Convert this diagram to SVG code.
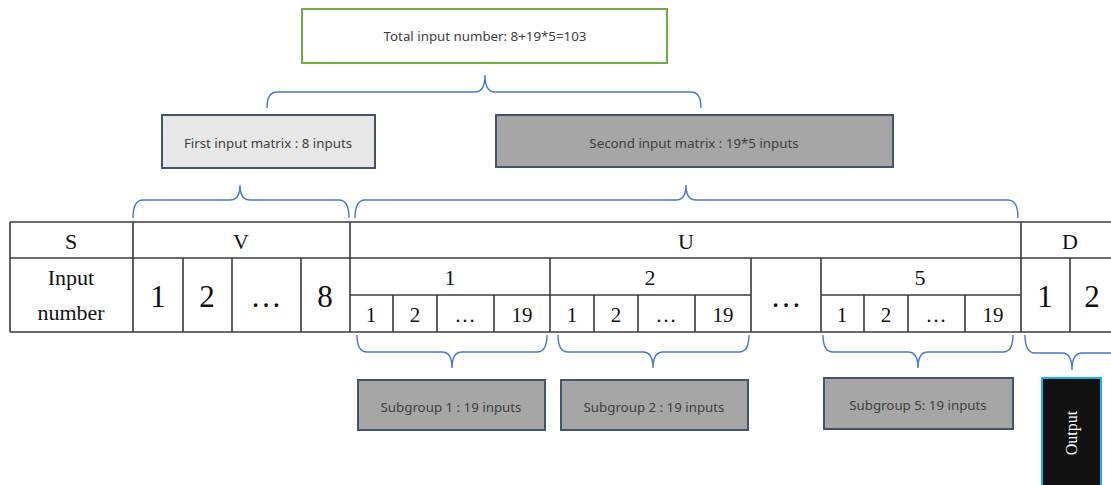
<svg xmlns="http://www.w3.org/2000/svg" width="1111" height="485" viewBox="0 0 1111 485">
<style>
.brace{fill:none;stroke:#4a78c8;stroke-width:1.4}
.grid{fill:none;stroke:#3a3a3a;stroke-width:1.6}
.box{stroke:#44546a;stroke-width:2}
.lbl{font-family:"Noto Sans","Liberation Sans",sans-serif;font-size:13.3px;fill:#404040;text-anchor:middle}
.t{font-family:"Liberation Serif",serif;fill:#111;text-anchor:middle}
.h{font-size:22px}
.big{font-size:31px}
.sm{font-size:21px}
</style>
<rect width="1111" height="485" fill="#ffffff"/>
<g id="total">
<rect x="302" y="9" width="365" height="54" fill="#ffffff" stroke="#70ad47" stroke-width="2"/>
<text class="lbl" x="485" y="41">Total input number: 8+19*5=103</text>
</g>
<g id="first">
<rect class="box" x="162" y="115" width="213" height="53" fill="#e7e7e7"/>
<text class="lbl" x="268" y="148">First input matrix : 8 inputs</text>
</g>
<g id="second">
<rect class="box" x="496" y="115" width="397" height="52" fill="#a6a6a6"/>
<text class="lbl" x="694" y="148">Second input matrix : 19*5 inputs</text>
</g>
<g id="sub1">
<rect class="box" x="358" y="380" width="187" height="50" fill="#a6a6a6"/>
<text class="lbl" x="451" y="412">Subgroup 1 : 19 inputs</text>
</g>
<g id="sub2">
<rect class="box" x="561" y="380" width="187" height="50" fill="#a6a6a6"/>
<text class="lbl" x="654" y="412">Subgroup 2 : 19 inputs</text>
</g>
<g id="sub5">
<rect class="box" x="824" y="378" width="189" height="51" fill="#a6a6a6"/>
<text class="lbl" x="918" y="410">Subgroup 5: 19 inputs</text>
</g>
<g id="output">
<rect x="1042" y="378" width="59" height="112" fill="#111111" stroke="#1ab0ef" stroke-width="2"/>
<text class="t" x="0" y="0" transform="translate(1077,433) rotate(-90)" style="font-size:16px;fill:#ffffff">Output</text>
</g>
<g id="table">
<line class="grid" x1="10" y1="222" x2="1111" y2="222"/>
<line class="grid" x1="10" y1="258" x2="1111" y2="258"/>
<line class="grid" x1="10" y1="332" x2="1111" y2="332"/>
<line class="grid" x1="350" y1="295" x2="751" y2="295"/>
<line class="grid" x1="821" y1="295" x2="1021" y2="295"/>
<line class="grid" x1="10" y1="222" x2="10" y2="332"/>
<line class="grid" x1="133" y1="222" x2="133" y2="332"/>
<line class="grid" x1="350" y1="222" x2="350" y2="332"/>
<line class="grid" x1="1021" y1="222" x2="1021" y2="332"/>
<line class="grid" x1="183" y1="258" x2="183" y2="332"/>
<line class="grid" x1="232" y1="258" x2="232" y2="332"/>
<line class="grid" x1="301" y1="258" x2="301" y2="332"/>
<line class="grid" x1="550" y1="258" x2="550" y2="332"/>
<line class="grid" x1="751" y1="258" x2="751" y2="332"/>
<line class="grid" x1="821" y1="258" x2="821" y2="332"/>
<line class="grid" x1="1070" y1="258" x2="1070" y2="332"/>
<line class="grid" x1="393" y1="295" x2="393" y2="332"/>
<line class="grid" x1="437" y1="295" x2="437" y2="332"/>
<line class="grid" x1="494" y1="295" x2="494" y2="332"/>
<line class="grid" x1="594" y1="295" x2="594" y2="332"/>
<line class="grid" x1="638" y1="295" x2="638" y2="332"/>
<line class="grid" x1="695" y1="295" x2="695" y2="332"/>
<line class="grid" x1="864" y1="295" x2="864" y2="332"/>
<line class="grid" x1="908" y1="295" x2="908" y2="332"/>
<line class="grid" x1="965" y1="295" x2="965" y2="332"/>
<text class="t h" x="71" y="249">S</text>
<text class="t h" x="241" y="249">V</text>
<text class="t h" x="686" y="249">U</text>
<text class="t h" x="1070" y="249">D</text>
<text class="t h" x="71" y="285">Input</text>
<text class="t h" x="71" y="320">number</text>
<text class="t big" x="158" y="307">1</text>
<text class="t big" x="207" y="307">2</text>
<text class="t big" x="266" y="307">…</text>
<text class="t big" x="325" y="307">8</text>
<text class="t h" x="450" y="285">1</text>
<text class="t h" x="650" y="285">2</text>
<text class="t h" x="920" y="285">5</text>
<text class="t sm" x="371" y="322">1</text>
<text class="t sm" x="415" y="322">2</text>
<text class="t sm" x="465" y="322">…</text>
<text class="t sm" x="522" y="322">19</text>
<text class="t sm" x="572" y="322">1</text>
<text class="t sm" x="616" y="322">2</text>
<text class="t sm" x="666" y="322">…</text>
<text class="t sm" x="723" y="322">19</text>
<text class="t sm" x="842" y="322">1</text>
<text class="t sm" x="886" y="322">2</text>
<text class="t sm" x="936" y="322">…</text>
<text class="t sm" x="993" y="322">19</text>
<text class="t big" x="786" y="307">…</text>
<text class="t big" x="1045" y="307">1</text>
<text class="t big" x="1092" y="307">2</text>
</g>
<g id="connectors">
<path class="brace" d="M267,108 Q267,92 277,92 L475,92 Q485,92 485,75 Q485,92 495,92 L691,92 Q701,92 701,108"/>
<path class="brace" d="M133,218 Q133,200 143,200 L230,200 Q240,200 240,185 Q240,200 250,200 L339,200 Q349,200 349,218"/>
<path class="brace" d="M355,218 Q355,200 365,200 L676,200 Q686,200 686,185 Q686,200 696,200 L1008,200 Q1018,200 1018,218"/>
<path class="brace" d="M357,335 Q357,352 367,352 L442,352 Q452,352 452,368 Q452,352 462,352 L537,352 Q547,352 547,335"/>
<path class="brace" d="M558,335 Q558,352 568,352 L643,352 Q653,352 653,368 Q653,352 663,352 L739,352 Q749,352 749,335"/>
<path class="brace" d="M823,335 Q823,352 833,352 L908,352 Q918,352 918,368 Q918,352 928,352 L1003,352 Q1013,352 1013,335"/>
<path class="brace" d="M1025,335 Q1025,353 1035,353 L1062,353 Q1072,353 1072,370 Q1072,353 1082,353 L1111,353"/>
</g>
</svg>
